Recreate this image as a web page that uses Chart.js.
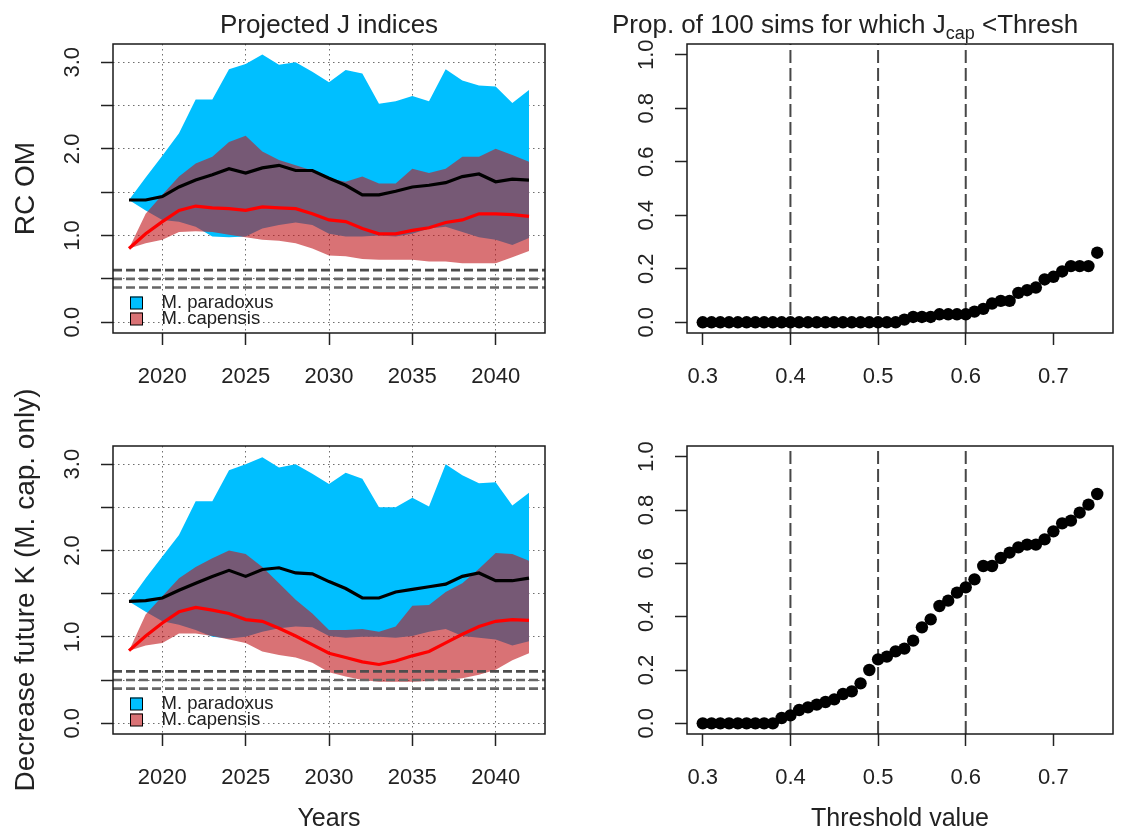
<!DOCTYPE html>
<html>
<head>
<meta charset="utf-8">
<script src="https://cdn.jsdelivr.net/npm/chart.js@4.4.1/dist/chart.umd.min.js"></script>
<style>
  html, body { margin: 0; padding: 0; background: #fff; }
  #wrap { position: relative; width: 1148px; height: 835px; overflow: hidden; }
  canvas { position: absolute; }
</style>
</head>
<body>
<div id="wrap">
  <canvas id="rcJ" width="580" height="400" style="left:0;top:0"></canvas>
  <canvas id="kJ" width="580" height="475" style="left:0;top:360px"></canvas>
  <canvas id="rcProp" width="568" height="400" style="left:580px;top:0"></canvas>
  <canvas id="kProp" width="568" height="475" style="left:580px;top:360px"></canvas>
</div>
<script>
// projection years (left panels)
const years = [2018, 2019, 2020, 2021, 2022, 2023, 2024, 2025, 2026, 2027, 2028, 2029,
  2030, 2031, 2032, 2033, 2034, 2035, 2036, 2037, 2038, 2039, 2040, 2041, 2042];
const yearTicks = [2020, 2025, 2030, 2035, 2040];
const jTicks = [0, 0.5, 1, 1.5, 2, 2.5, 3];
const jTickLabels = ['0.0', '', '1.0', '', '2.0', '', '3.0'];
const threshLines = [0.4, 0.5, 0.6];

// RC OM
const rcParUpper = [1.41, 1.67, 1.92, 2.18, 2.57, 2.57, 2.92, 2.98, 3.09, 2.97, 3.00, 2.89, 2.77,
  2.91, 2.87, 2.52, 2.55, 2.61, 2.55, 2.92, 2.79, 2.73, 2.72, 2.53, 2.68];
const rcParLower = [1.41, 1.29, 1.18, 1.16, 1.10, 0.99, 0.98, 0.99, 1.08, 1.12, 1.15, 1.12, 1.02,
  0.99, 0.99, 1.00, 0.99, 1.02, 1.08, 1.10, 1.04, 0.98, 0.95, 0.89, 0.97];
const rcParMed = [1.41, 1.41, 1.45, 1.56, 1.64, 1.70, 1.77, 1.72, 1.78, 1.81, 1.75, 1.75, 1.66,
  1.58, 1.47, 1.47, 1.51, 1.56, 1.58, 1.61, 1.68, 1.71, 1.62, 1.65, 1.64];
const rcCapUpper = [0.85, 1.25, 1.47, 1.68, 1.83, 1.91, 2.08, 2.15, 1.97, 1.87, 1.81, 1.75, 1.66,
  1.62, 1.68, 1.60, 1.60, 1.77, 1.72, 1.77, 1.91, 1.91, 2.00, 1.93, 1.85];
const rcCapLower = [0.85, 0.91, 0.95, 1.04, 1.05, 1.04, 1.01, 0.98, 0.95, 0.94, 0.91, 0.85, 0.77,
  0.76, 0.73, 0.72, 0.72, 0.72, 0.70, 0.70, 0.68, 0.68, 0.68, 0.75, 0.82];
const rcCapMed = [0.85, 1.02, 1.16, 1.29, 1.34, 1.32, 1.31, 1.29, 1.33, 1.32, 1.31, 1.25, 1.18,
  1.16, 1.08, 1.02, 1.02, 1.06, 1.09, 1.15, 1.18, 1.25, 1.25, 1.24, 1.22];

// Decrease future K (M. cap. only)
const kParUpper = [1.41, 1.68, 1.93, 2.18, 2.57, 2.57, 2.93, 3.00, 3.08, 2.96, 3.00, 2.89, 2.77,
  2.90, 2.83, 2.50, 2.50, 2.61, 2.51, 3.00, 2.87, 2.78, 2.79, 2.52, 2.67];
const kParLower = [1.41, 1.29, 1.18, 1.14, 1.08, 1.00, 0.98, 1.00, 1.06, 1.10, 1.12, 1.11, 1.01,
  0.99, 1.00, 1.00, 0.99, 1.01, 1.06, 1.09, 1.01, 0.99, 0.97, 0.90, 0.95];
const kParMed = [1.41, 1.42, 1.45, 1.54, 1.62, 1.70, 1.77, 1.70, 1.78, 1.80, 1.74, 1.73, 1.64,
  1.56, 1.45, 1.45, 1.52, 1.55, 1.58, 1.61, 1.70, 1.74, 1.65, 1.65, 1.68];
const kCapUpper = [0.84, 1.26, 1.47, 1.68, 1.81, 1.91, 2.00, 1.96, 1.81, 1.62, 1.43, 1.27, 1.08,
  1.08, 1.09, 1.06, 1.12, 1.36, 1.37, 1.52, 1.62, 1.79, 1.97, 1.96, 1.88];
const kCapLower = [0.84, 0.90, 0.93, 1.04, 1.04, 1.01, 0.97, 0.93, 0.83, 0.79, 0.76, 0.70, 0.59,
  0.54, 0.50, 0.48, 0.48, 0.48, 0.49, 0.50, 0.52, 0.56, 0.62, 0.73, 0.81];
const kCapMed = [0.84, 1.01, 1.16, 1.29, 1.34, 1.31, 1.27, 1.20, 1.18, 1.10, 1.01, 0.91, 0.81,
  0.76, 0.71, 0.68, 0.72, 0.78, 0.83, 0.93, 1.03, 1.12, 1.18, 1.20, 1.19];

// threshold sweep (right panels)
const thresholds = [0.30, 0.31, 0.32, 0.33, 0.34, 0.35, 0.36, 0.37, 0.38, 0.39,
  0.40, 0.41, 0.42, 0.43, 0.44, 0.45, 0.46, 0.47, 0.48, 0.49,
  0.50, 0.51, 0.52, 0.53, 0.54, 0.55, 0.56, 0.57, 0.58, 0.59,
  0.60, 0.61, 0.62, 0.63, 0.64, 0.65, 0.66, 0.67, 0.68, 0.69,
  0.70, 0.71, 0.72, 0.73, 0.74, 0.75];
const threshTicks = [0.3, 0.4, 0.5, 0.6, 0.7];
const threshTickLabels = ['0.3', '0.4', '0.5', '0.6', '0.7'];
const propTicks = [0, 0.2, 0.4, 0.6, 0.8, 1];
const propTickLabels = ['0.0', '0.2', '0.4', '0.6', '0.8', '1.0'];
const propRC = [0, 0, 0, 0, 0, 0, 0, 0, 0, 0, 0, 0, 0, 0, 0, 0, 0, 0, 0, 0,
  0, 0, 0, 0.01, 0.02, 0.02, 0.02, 0.03, 0.03, 0.03, 0.03, 0.04, 0.05, 0.07, 0.08, 0.08,
  0.11, 0.12, 0.13, 0.16, 0.17, 0.19, 0.21, 0.21, 0.21, 0.26];
const propK = [0, 0, 0, 0, 0, 0, 0, 0, 0, 0.02, 0.03, 0.05, 0.06, 0.07, 0.08, 0.09, 0.11,
  0.12, 0.15, 0.20, 0.24, 0.25, 0.27, 0.28, 0.31, 0.36, 0.39, 0.44, 0.46, 0.49, 0.51, 0.54,
  0.59, 0.59, 0.62, 0.64, 0.66, 0.67, 0.67, 0.69, 0.72, 0.75, 0.76, 0.79, 0.82, 0.86];

const FONT = '"Liberation Sans", Arial, Helvetica, sans-serif';
const parColor = '#00bfff';
const capColor = 'rgba(193, 25, 29, 0.61)';
const gridColor = '#6e6e6e';
const clear = 'rgba(0,0,0,0)';

Chart.defaults.font.family = FONT;
Chart.defaults.color = '#222';

const pts = (xs, ys) => ys.map((v, i) => ({ x: xs[i], y: v }));

// R style box round the plot region
const framePlugin = {
  id: 'frame',
  afterDraw(chart) {
    const { ctx, chartArea: a } = chart;
    ctx.save();
    ctx.strokeStyle = '#1a1a1a';
    ctx.lineWidth = 1.5;
    ctx.strokeRect(a.left, a.top, a.right - a.left, a.bottom - a.top);
    ctx.restore();
  },
};

// main title, pieces can be lowered as subscripts
const headPlugin = {
  id: 'head',
  afterDraw(chart, args, opts) {
    if (!opts.parts) return;
    const { ctx, chartArea: a } = chart;
    ctx.save();
    ctx.fillStyle = '#222';
    ctx.textBaseline = 'alphabetic';
    ctx.textAlign = 'left';
    let total = 0;
    opts.parts.forEach((p) => {
      ctx.font = p.size + 'px ' + FONT;
      total += ctx.measureText(p.text).width;
    });
    let x = opts.x != null ? opts.x : (a.left + a.right) / 2 - total / 2;
    opts.parts.forEach((p) => {
      ctx.font = p.size + 'px ' + FONT;
      ctx.fillText(p.text, x, opts.baseline + (p.dy || 0));
      x += ctx.measureText(p.text).width;
    });
    ctx.restore();
  },
};

// filled-square legend in the lower left corner of the plot
const keyPlugin = {
  id: 'key',
  afterDraw(chart, args, opts) {
    if (!opts.items) return;
    const { ctx, chartArea: a } = chart;
    ctx.save();
    ctx.font = '18.5px ' + FONT;
    ctx.textBaseline = 'alphabetic';
    opts.items.forEach((it, i) => {
      const top = a.bottom - 36.5 + i * 16;
      ctx.fillStyle = '#fff';
      ctx.fillRect(a.left + 17, top, 12.5, 12.5);
      ctx.fillStyle = it.color;
      ctx.fillRect(a.left + 17, top, 12.5, 12.5);
      ctx.strokeStyle = '#000';
      ctx.lineWidth = 1;
      ctx.strokeRect(a.left + 17.5, top + 0.5, 12, 12);
      ctx.fillStyle = '#222';
      ctx.fillText(it.text, a.left + 48.5, top + 11.8);
    });
    ctx.restore();
  },
};

function baseScale(ticks, labels, min, max) {
  return {
    type: 'linear',
    min: min,
    max: max,
    afterBuildTicks: (s) => { s.ticks = ticks.map((v) => ({ value: v })); },
    border: { display: false },
    grid: { display: true, drawOnChartArea: false, tickLength: 12, tickColor: '#222', tickWidth: 1.5 },
    ticks: {
      autoSkip: false,
      color: '#222',
      font: { size: 22 },
      callback: (v, i) => labels[i],
    },
  };
}

function bandChart(id, d, box, yTitle, xTitle) {
  const canvas = document.getElementById(id);
  const yearMin = 2017.04;
  const yearMax = 2042.96;
  const datasets = [
    { label: 'M. paradoxus', data: pts(years, d.parMed), borderColor: '#000', borderWidth: 3.2, pointRadius: 0, fill: false, order: 1 },
    { label: 'M. capensis', data: pts(years, d.capMed), borderColor: '#ff0000', borderWidth: 3.2, pointRadius: 0, fill: false, order: 2 },
    { label: 'cap upper', data: pts(years, d.capUpper), borderColor: clear, borderWidth: 0, pointRadius: 0, backgroundColor: capColor, fill: '+1', order: 3 },
    { label: 'cap lower', data: pts(years, d.capLower), borderColor: clear, borderWidth: 0, pointRadius: 0, fill: false, order: 4 },
    { label: 'par upper', data: pts(years, d.parUpper), borderColor: clear, borderWidth: 0, pointRadius: 0, backgroundColor: parColor, fill: '+1', order: 5 },
    { label: 'par lower', data: pts(years, d.parLower), borderColor: clear, borderWidth: 0, pointRadius: 0, fill: false, order: 6 },
  ];
  threshLines.forEach((t, i) => {
    datasets.push({
      label: 'thresh ' + t,
      data: [{ x: yearMin, y: t }, { x: yearMax, y: t }],
      borderColor: i === 2 ? '#4d4d4d' : '#666',
      borderWidth: 2.6,
      borderDash: [9, 4],
      pointRadius: 0,
      fill: false,
      order: 0,
    });
  });

  const x = baseScale(yearTicks, yearTicks.map(String), yearMin, yearMax);
  x.z = 1;
  x.grid.drawOnChartArea = true;
  x.grid.color = gridColor;
  x.border.dash = [1.5, 3.5];
  x.ticks.maxRotation = 0;
  x.ticks.padding = 19;
  x.afterFit = (s) => { s.height = canvas.height - box.bottom; };
  x.title = { display: !!xTitle, text: xTitle || '', color: '#222', font: { size: 25 }, padding: { top: 0, bottom: 1 } };

  const y = baseScale(jTicks, jTickLabels, -0.125, 3.21);
  y.z = 1;
  y.grid.drawOnChartArea = true;
  y.grid.color = gridColor;
  y.border.dash = [1.5, 3.5];
  y.ticks.minRotation = 90;
  y.ticks.maxRotation = 90;
  y.ticks.crossAlign = 'center';
  y.ticks.padding = 13;
  y.afterFit = (s) => { s.width = box.left; };
  y.title = { display: true, text: yTitle, color: '#222', font: { size: 28 }, padding: { top: 9, bottom: 0 } };

  return new Chart(canvas, {
    type: 'line',
    data: { datasets },
    options: {
      responsive: false,
      animation: false,
      devicePixelRatio: 1,
      events: [],
      layout: { padding: { left: 0, top: box.top, right: canvas.width - box.right, bottom: 0 } },
      plugins: {
        legend: { display: false },
        tooltip: { enabled: false },
        head: d.title ? { parts: [{ text: d.title, size: 26 }], baseline: 33 } : {},
        key: { items: [{ text: 'M. paradoxus', color: parColor }, { text: 'M. capensis', color: capColor }] },
      },
      scales: { x, y },
    },
    plugins: [framePlugin, headPlugin, keyPlugin],
  });
}

function propChart(id, prop, box, xTitle, withTitle) {
  const canvas = document.getElementById(id);
  const pMin = -0.04;
  const pMax = 1.04;
  const datasets = [
    { label: 'proportion', data: pts(thresholds, prop), backgroundColor: '#000', borderWidth: 0, pointRadius: 6.2, order: 0 },
  ];
  threshLines.forEach((t) => {
    datasets.push({
      label: 'line ' + t,
      data: [{ x: t, y: pMin }, { x: t, y: pMax }],
      showLine: true,
      borderColor: '#474747',
      borderWidth: 2,
      borderDash: [13, 5],
      pointRadius: 0,
      fill: false,
      order: 1,
    });
  });

  const x = baseScale(threshTicks, threshTickLabels, 0.282, 0.768);
  x.ticks.maxRotation = 0;
  x.ticks.padding = 19;
  x.afterFit = (s) => { s.height = canvas.height - box.bottom; };
  x.title = { display: !!xTitle, text: xTitle || '', color: '#222', font: { size: 25 }, padding: { top: 0, bottom: 1 } };

  const y = baseScale(propTicks, propTickLabels, pMin, pMax);
  y.ticks.minRotation = 90;
  y.ticks.maxRotation = 90;
  y.ticks.crossAlign = 'center';
  y.ticks.padding = 13;
  y.afterFit = (s) => { s.width = box.left; };

  return new Chart(canvas, {
    type: 'scatter',
    data: { datasets },
    options: {
      responsive: false,
      animation: false,
      devicePixelRatio: 1,
      events: [],
      layout: { padding: { left: 0, top: box.top, right: canvas.width - box.right, bottom: 0 } },
      plugins: {
        legend: { display: false },
        tooltip: { enabled: false },
        head: withTitle ? {
          parts: [
            { text: 'Prop. of 100 sims for which J', size: 26 },
            { text: 'cap', size: 18, dy: 6 },
            { text: ' <Thresh', size: 26 },
          ],
          baseline: 33,
          x: 32,
        } : {},
      },
      scales: { x, y },
    },
    plugins: [framePlugin, headPlugin],
  });
}

bandChart('rcJ', {
  title: 'Projected J indices',
  parUpper: rcParUpper, parLower: rcParLower, parMed: rcParMed,
  capUpper: rcCapUpper, capLower: rcCapLower, capMed: rcCapMed,
}, { left: 113, right: 545, top: 44, bottom: 333 }, 'RC OM', null);

bandChart('kJ', {
  parUpper: kParUpper, parLower: kParLower, parMed: kParMed,
  capUpper: kCapUpper, capLower: kCapLower, capMed: kCapMed,
}, { left: 113, right: 545, top: 86, bottom: 374 }, 'Decrease future K (M. cap. only)', 'Years');

propChart('rcProp', propRC, { left: 107, right: 533, top: 44, bottom: 333 }, null, true);
propChart('kProp', propK, { left: 107, right: 533, top: 86, bottom: 374 }, 'Threshold value', false);
</script>
</body>
</html>
